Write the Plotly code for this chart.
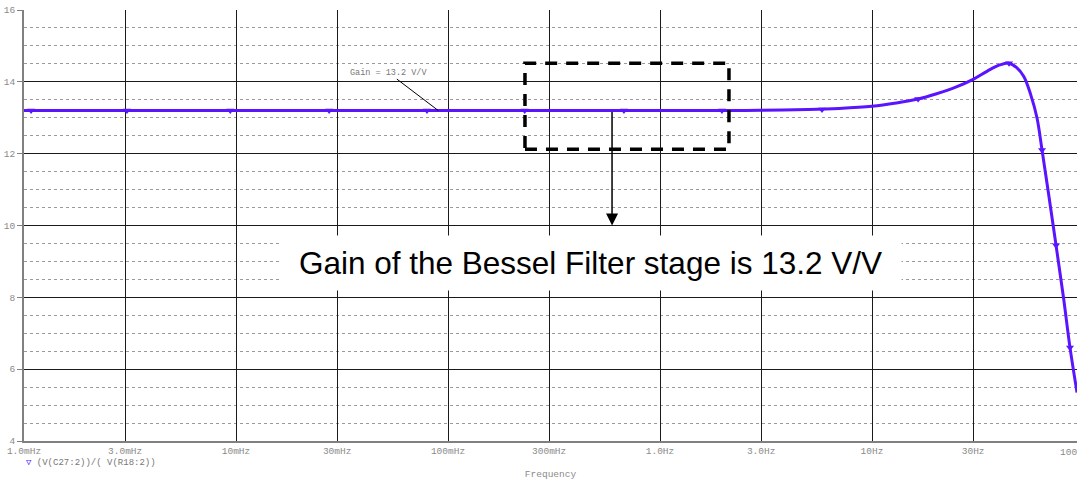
import numpy as np
import plotly.graph_objects as go

# Bessel filter stage gain vs frequency
freq_hz = [0.001, 0.003, 0.01, 0.03, 0.1, 0.3, 1.0, 2.0, 3.0, 5.0, 7.0, 10.0, 13.0,
           16.5, 20.0, 25.0, 30.0, 35.0, 40.0, 44.3, 48.0, 52.0, 56.0, 60.0, 63.4,
           68.0, 73.8, 80.0, 85.9, 92.7]
gain_vv = [13.2, 13.2, 13.2, 13.2, 13.2, 13.2, 13.2, 13.2, 13.21, 13.23, 13.26, 13.32, 13.41,
           13.52, 13.66, 13.86, 14.07, 14.3, 14.47, 14.52, 14.4, 14.15, 13.65, 13.0, 12.1,
           10.9, 9.45, 8.0, 6.6, 5.35]

# trace symbol positions (PSpice marks every n-th data point)
marker_hz = [0.00108, 0.00306, 0.0094, 0.0275, 0.0796, 0.23, 0.676, 1.96, 5.81,
             16.5, 44.3, 63.4, 73.8, 85.9]
marker_vv = [13.2, 13.2, 13.2, 13.2, 13.2, 13.2, 13.2, 13.2, 13.23,
             13.52, 14.52, 12.1, 9.45, 6.6]

x_tickvals = [0.001, 0.003, 0.01, 0.03, 0.1, 0.3, 1, 3, 10, 30]
x_ticktext = ["1.0mHz", "3.0mHz", "10mHz", "30mHz", "100mHz", "300mHz",
              "1.0Hz", "3.0Hz", "10Hz", "30Hz"]

TRACE = "#5a14ff"
MONO = "Liberation Mono, Courier New, monospace"
LABEL = "#8a8a8a"

fig = go.Figure()
fig.add_trace(go.Scatter(x=freq_hz, y=gain_vv, mode="lines", line=dict(color=TRACE, width=3),
                         line_shape="spline", showlegend=False))
fig.add_trace(go.Scatter(x=marker_hz, y=marker_vv, mode="markers", showlegend=False,
                         marker=dict(symbol="triangle-down", size=7, color=TRACE)))

# dashed highlight box around the flat pass band + arrow down to the caption
fig.add_shape(type="rect", xref="x", yref="y", x0=0.2307, x1=2.115, y0=12.12, y1=14.52,
              line=dict(color="black", width=3.5, dash="12px,9px"))
fig.add_annotation(x=np.log10(0.594), y=10.0, ax=np.log10(0.594), ay=13.2,
                   axref="x", ayref="y", xref="x", yref="y", text="",
                   showarrow=True, arrowhead=2, arrowsize=1.6, arrowwidth=1.5,
                   arrowcolor="black")
fig.add_annotation(x=np.log10(0.09), y=13.2, ax=-50, ay=-38, text="Gain = 13.2 V/V",
                   showarrow=True, arrowhead=0, arrowwidth=1, arrowcolor="black",
                   font=dict(family=MONO, size=8.5, color="#777777"))
fig.add_annotation(x=np.log10(0.4695), y=8.96, xref="x", yref="y", showarrow=False,
                   text="Gain of the Bessel Filter stage is 13.2 V/V", width=621, height=54,
                   bgcolor="white", borderpad=0,
                   font=dict(family="Liberation Sans, Arial", size=31.5, color="black"))

# last tick label (cut by the right edge, as in the original) and trace legend
fig.add_annotation(x=(1074 - 24) / 1053, y=-11 / 431, xref="paper", yref="paper",
                   xanchor="center", yanchor="middle",
                   text="100Hz", showarrow=False, font=dict(family=MONO, size=9.5, color=LABEL))
fig.add_annotation(x=0.0, y=-22 / 431, xref="paper", yref="paper", xanchor="left", yanchor="middle",
                   showarrow=False,
                   text=f"<span style='color:{TRACE}'>\u25bd</span> (V(C27:2))/( V(R18:2))",
                   font=dict(family=MONO, size=9, color="#777777"))

fig.update_xaxes(type="log", range=[-3, -3 + 1053 / 212], tickvals=x_tickvals, ticktext=x_ticktext,
                 showgrid=True, gridcolor="#1a1a1a", gridwidth=1, ticks="",
                 showline=True, linecolor="#808080", linewidth=2, zeroline=False,
                 tickfont=dict(family=MONO, size=9.5, color=LABEL),
                 title=dict(text="Frequency", font=dict(family=MONO, size=9.5, color=LABEL), standoff=14))
fig.update_yaxes(range=[4, 16], tick0=4, dtick=2, showgrid=True, gridcolor="#1a1a1a", gridwidth=1,
                 ticks="outside", ticklen=5, tickcolor="#808080",
                 showline=True, linecolor="#808080", linewidth=2, zeroline=False,
                 tickfont=dict(family=MONO, size=9.5, color=LABEL),
                 minor=dict(tick0=4, dtick=0.5, showgrid=True, gridcolor="#9a9a9a", griddash="dot",
                            gridwidth=1, ticks=""))
fig.update_layout(width=1077, height=480, margin=dict(l=24, r=0, t=10, b=39),
                  paper_bgcolor="white", plot_bgcolor="white", showlegend=False)
# drop the browser's default body margin so the figure sits at the page corner
fig.write_html("out.html", config={"displayModeBar": False},
               post_script="document.body.style.margin='0';")
